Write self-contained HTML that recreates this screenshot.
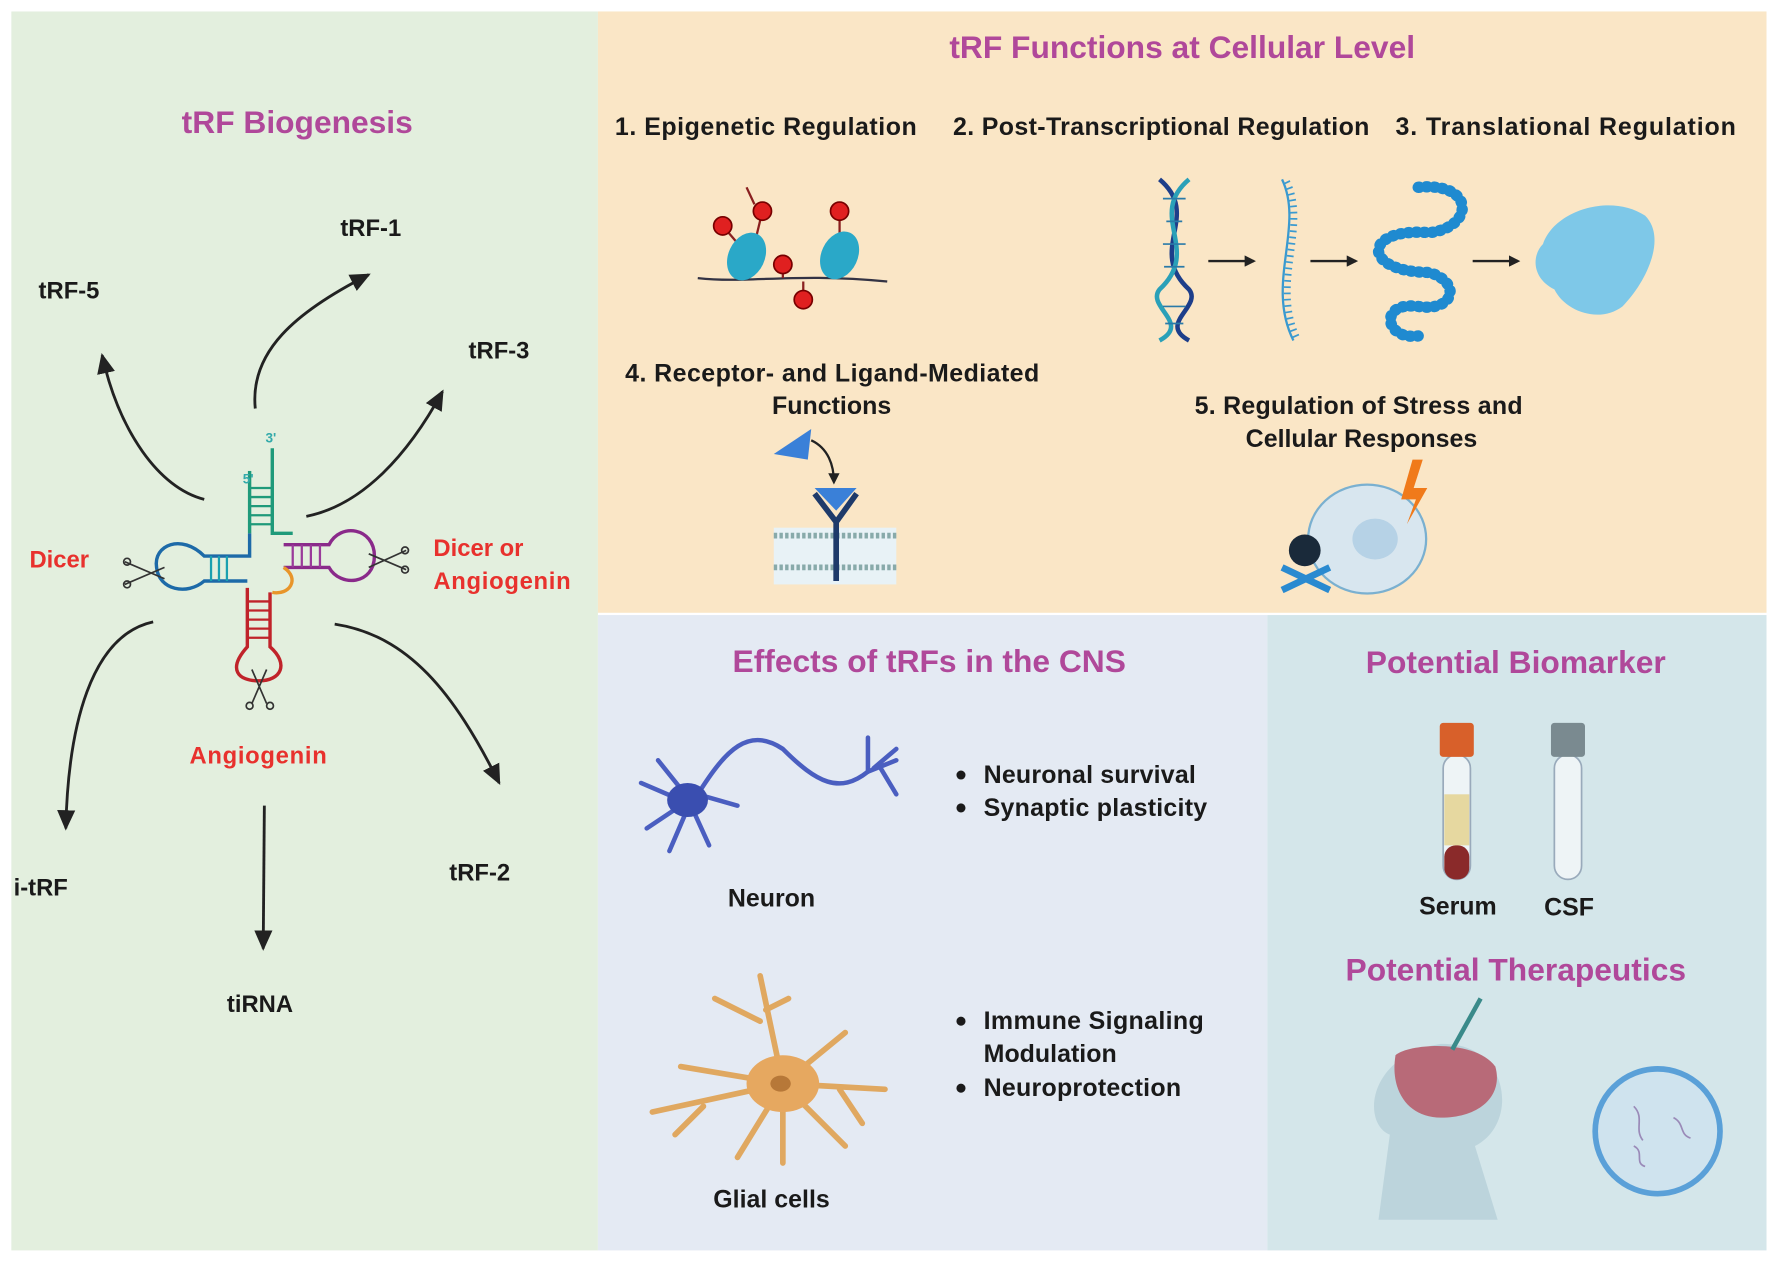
<!DOCTYPE html>
<html><head><meta charset="utf-8"><style>
html,body{margin:0;padding:0;background:#fff;}
svg{display:block;}
text{font-family:"Liberation Sans",sans-serif;font-weight:bold;}
</style></head><body>
<svg width="1779" height="1263" viewBox="0 0 1568 1113" xmlns="http://www.w3.org/2000/svg">
<defs>
<marker id="ah" markerWidth="10" markerHeight="10" refX="8" refY="5" orient="auto" markerUnits="userSpaceOnUse"><path d="M0,0 L10,5 L0,10 z" fill="#222"/></marker>
<marker id="ahb" markerWidth="20" markerHeight="20" refX="16" refY="10" orient="auto" markerUnits="userSpaceOnUse"><path d="M0,2 L18,10 L0,18 z" fill="#222"/></marker>
</defs>
<rect width="1568" height="1113" fill="#fff"/>
<rect x="10" y="10" width="517" height="1092" fill="#e3efde"/>
<rect x="527" y="10" width="1030" height="530" fill="#fae6c6"/>
<rect x="527" y="542" width="590" height="560" fill="#e4eaf3"/>
<rect x="1117" y="542" width="440" height="560" fill="#d4e6ea"/>

<!-- Left panel -->
<text x="262" y="117" font-size="28" fill="#b0489a" text-anchor="middle">tRF Biogenesis</text>
<g font-size="21" fill="#1a1a1a">
<text x="300" y="208">tRF-1</text>
<text x="34" y="263">tRF-5</text>
<text x="413" y="316">tRF-3</text>
<text x="12" y="789">i-tRF</text>
<text x="396" y="776">tRF-2</text>
<text x="200" y="892">tiRNA</text>
</g>
<g font-size="21" fill="#e8312d">
<text x="26" y="500">Dicer</text>
<text x="382" y="490">Dicer or</text>
<text x="382" y="519" textLength="121">Angiogenin</text>
<text x="167" y="673" textLength="121">Angiogenin</text>
</g>
<g fill="none" stroke="#222" stroke-width="2.5">
<path d="M225,360 C220,310 260,275 325,242" marker-end="url(#ahb)"/>
<path d="M180,440 C140,430 105,380 90,313" marker-end="url(#ahb)"/>
<path d="M270,455 C320,445 360,400 390,345" marker-end="url(#ahb)"/>
<path d="M135,548 C80,560 60,640 58,730" marker-end="url(#ahb)"/>
<path d="M295,550 C360,560 400,610 440,690" marker-end="url(#ahb)"/>
<path d="M233,710 L232,836" marker-end="url(#ahb)"/>
</g>
<!-- tRNA -->
<g fill="none" stroke-width="3">
<path d="M240,395 L240,470 L258,470" stroke="#1f9a7a"/>
<path d="M220,415 L220,470" stroke="#1f9a7a"/>
<g stroke="#1f9a7a" stroke-width="2"><line x1="220" y1="430" x2="240" y2="430"/><line x1="220" y1="438" x2="240" y2="438"/><line x1="220" y1="446" x2="240" y2="446"/><line x1="220" y1="454" x2="240" y2="454"/><line x1="220" y1="462" x2="240" y2="462"/></g>
<path d="M220,470 L220,490 L180,490 C160,470 135,480 138,500 C140,520 165,525 180,512 L218,512" stroke="#1d6aa8"/>
<g stroke="#1aa0b0" stroke-width="2"><line x1="186" y1="490" x2="186" y2="512"/><line x1="193" y1="490" x2="193" y2="512"/><line x1="200" y1="490" x2="200" y2="512"/></g>
<path d="M250,480 L290,480 C300,460 330,465 330,490 C330,515 300,518 290,500 L250,500" stroke="#8a2a8a"/>
<g stroke="#9a3a9a" stroke-width="2"><line x1="258" y1="480" x2="258" y2="500"/><line x1="266" y1="480" x2="266" y2="500"/><line x1="274" y1="480" x2="274" y2="500"/><line x1="282" y1="480" x2="282" y2="500"/></g>
<path d="M250,500 C265,510 255,525 240,522" stroke="#e8952a"/>
<path d="M218,518 L218,570 C200,590 210,600 228,600 C248,600 255,585 238,570 L238,522" stroke="#c0232a"/>
<g stroke="#c0232a" stroke-width="2"><line x1="218" y1="530" x2="238" y2="530"/><line x1="218" y1="538" x2="238" y2="538"/><line x1="218" y1="546" x2="238" y2="546"/><line x1="218" y1="554" x2="238" y2="554"/><line x1="218" y1="562" x2="238" y2="562"/></g>
</g>
<text x="234" y="390" font-size="12" fill="#3aa" font-weight="normal">3'</text>
<text x="214" y="426" font-size="12" fill="#3aa" font-weight="normal">5'</text>
<g stroke="#333" stroke-width="1.5" fill="none">
<path d="M110,495 L145,510 M110,515 L145,500"/><circle cx="112" cy="495" r="3"/><circle cx="112" cy="515" r="3"/>
<path d="M358,485 L325,500 M358,502 L325,488"/><circle cx="357" cy="485" r="3"/><circle cx="357" cy="502" r="3"/>
<path d="M222,590 L235,620 M235,590 L222,620"/><circle cx="220" cy="622" r="3"/><circle cx="238" cy="622" r="3"/>
</g>

<!-- Top right -->
<text x="1042" y="51" font-size="28" fill="#b0489a" text-anchor="middle">tRF Functions at Cellular Level</text>
<g font-size="22" fill="#1a1a1a">
<text x="542" y="119" textLength="266">1.  Epigenetic Regulation</text>
<text x="840" y="119" textLength="367">2. Post-Transcriptional Regulation</text>
<text x="1230" y="119" textLength="300">3. Translational Regulation</text>
<text x="551" y="336" textLength="365">4. Receptor- and Ligand-Mediated</text>
<text x="733" y="365" text-anchor="middle">Functions</text>
<text x="1053" y="365" textLength="289">5. Regulation of Stress and</text>
<text x="1200" y="394" text-anchor="middle">Cellular Responses</text>
</g>
<!-- nucleosomes -->
<path d="M615,245 C660,250 700,240 782,248" stroke="#334" stroke-width="2" fill="none"/>
<g stroke="#8a2020" stroke-width="2"><line x1="637" y1="199" x2="655" y2="220"/><line x1="672" y1="186" x2="665" y2="215"/><line x1="740" y1="186" x2="740" y2="210"/><line x1="690" y1="233" x2="690" y2="245"/><line x1="708" y1="248" x2="708" y2="263"/><line x1="658" y1="165" x2="665" y2="180"/></g>
<ellipse cx="658" cy="226" rx="16" ry="22" fill="#2aa8c8" transform="rotate(25 658 226)"/>
<ellipse cx="740" cy="225" rx="16" ry="22" fill="#2aa8c8" transform="rotate(25 740 225)"/>
<g fill="#e02020" stroke="#700" stroke-width="1.5"><circle cx="637" cy="199" r="8"/><circle cx="672" cy="186" r="8"/><circle cx="740" cy="186" r="8"/><circle cx="690" cy="233" r="8"/><circle cx="708" cy="264" r="8"/></g>
<!-- DNA -->
<path d="M1022,158 C1060,190 1010,220 1048,255 C1060,270 1020,285 1048,300" stroke="#1d3e8a" stroke-width="4" fill="none"/>
<path d="M1048,158 C1010,190 1060,220 1022,255 C1010,270 1050,285 1022,300" stroke="#2aa0b8" stroke-width="4" fill="none"/>
<g stroke="#2a7aa8" stroke-width="1.5"><line x1="1025" y1="175" x2="1045" y2="175"/><line x1="1028" y1="195" x2="1042" y2="195"/><line x1="1025" y1="215" x2="1045" y2="215"/><line x1="1026" y1="235" x2="1044" y2="235"/><line x1="1025" y1="270" x2="1045" y2="270"/><line x1="1027" y1="285" x2="1043" y2="285"/></g>
<path d="M1130,158 C1150,200 1115,250 1140,300" stroke="#3a9ad0" stroke-width="2" fill="none"/>
<path d="M1134,160 C1154,200 1119,250 1144,300" stroke="#3a9ad0" stroke-width="6" fill="none" stroke-dasharray="1.5,4"/>
<path d="M1250,165 C1300,160 1300,200 1260,205 C1200,200 1200,240 1260,240 C1290,250 1280,275 1250,270 C1215,265 1220,300 1250,296" stroke="#1f8ad0" stroke-width="10" fill="none" stroke-dasharray="1,6" stroke-linecap="round"/>
<path d="M1360,215 C1370,185 1420,170 1450,190 C1470,210 1450,250 1430,270 C1410,285 1380,275 1370,255 C1350,245 1350,225 1360,215z" fill="#7ec8e8"/>
<g stroke="#222" stroke-width="2" fill="none">
<path d="M1065,230 L1105,230" marker-end="url(#ah)"/>
<path d="M1155,230 L1195,230" marker-end="url(#ah)"/>
<path d="M1298,230 L1338,230" marker-end="url(#ah)"/>
<path d="M715,388 C730,395 735,410 735,425" marker-end="url(#ah)"/>
</g>
<!-- receptor -->
<rect x="682" y="465" width="108" height="50" fill="#e8f2f6"/>
<g stroke="#8aa" stroke-width="5" stroke-dasharray="3,2"><line x1="682" y1="472" x2="790" y2="472"/><line x1="682" y1="500" x2="790" y2="500"/></g>
<path d="M682,400 L715,378 L712,405z" fill="#3a80d8"/>
<path d="M718,430 L755,430 L737,450z" fill="#3a80d8"/>
<path d="M718,435 L737,460 L755,435 M737,460 L737,512" stroke="#1e3a6a" stroke-width="5" fill="none"/>
<!-- stress cell -->
<ellipse cx="1205" cy="475" rx="52" ry="48" fill="#d8e6ef" stroke="#7ab0d0" stroke-width="2"/>
<ellipse cx="1212" cy="475" rx="20" ry="18" fill="#b6d2e6"/>
<path d="M1245,405 L1235,440 L1248,440 L1240,462 L1258,430 L1246,430 L1254,405z" fill="#f07a1a"/>
<circle cx="1150" cy="485" r="14" fill="#1a2a3a"/>
<path d="M1130,500 L1172,520 M1172,500 L1130,520" stroke="#2a8ad0" stroke-width="6"/>

<!-- Bottom middle -->
<text x="819" y="592" font-size="28" fill="#b0489a" text-anchor="middle">Effects of tRFs in the CNS</text>
<g font-size="22" fill="#1a1a1a">
<text x="680" y="799" text-anchor="middle">Neuron</text>
<text x="680" y="1064" text-anchor="middle">Glial cells</text>
<text x="867" y="690" textLength="187">Neuronal survival</text>
<text x="867" y="719" textLength="197">Synaptic plasticity</text>
<text x="867" y="907" textLength="194">Immune Signaling</text>
<text x="867" y="936">Modulation</text>
<text x="867" y="966" textLength="174">Neuroprotection</text>
</g>
<g fill="#1a1a1a"><circle cx="847" cy="683" r="4"/><circle cx="847" cy="712" r="4"/><circle cx="847" cy="900" r="4"/><circle cx="847" cy="959" r="4"/></g>
<g stroke="#4a5ec0" stroke-width="4" fill="none" stroke-linecap="round">
<path d="M615,700 C640,660 660,640 690,660 C720,690 740,700 765,680 L790,670"/>
<path d="M600,705 L565,690 M600,710 L570,730 M605,715 L590,750 M610,712 L625,745 M615,700 L650,710 M600,695 L580,670 M765,680 L765,650 M775,675 L790,700 M770,677 L790,660"/>
</g>
<ellipse cx="606" cy="705" rx="18" ry="15" fill="#3a4eb0"/>
<g stroke="#e0a860" stroke-width="5" fill="none" stroke-linecap="round">
<path d="M690,955 L670,860 M690,955 L575,980 M690,955 L600,940 M690,955 L780,960 M690,955 L745,910 M690,955 L650,1020 M690,955 L690,1025 M690,955 L745,1010 M670,900 L630,880 M675,890 L695,880 M620,975 L595,1000 M740,960 L760,990"/>
</g>
<ellipse cx="690" cy="955" rx="32" ry="25" fill="#e6a860"/>
<ellipse cx="688" cy="955" rx="9" ry="7" fill="#b77838"/>

<!-- Bottom right -->
<text x="1336" y="593" font-size="28" fill="#b0489a" text-anchor="middle">Potential Biomarker</text>
<text x="1336" y="864" font-size="28" fill="#b0489a" text-anchor="middle">Potential Therapeutics</text>
<g font-size="22" fill="#1a1a1a">
<text x="1285" y="806" text-anchor="middle">Serum</text>
<text x="1383" y="807" text-anchor="middle">CSF</text>
</g>
<rect x="1272" y="665" width="24" height="110" rx="12" fill="#eef4f6" stroke="#9ab" stroke-width="1.5"/>
<rect x="1273" y="700" width="22" height="45" fill="#e6d8a0"/>
<rect x="1273" y="745" width="22" height="30" rx="10" fill="#8a2a2a"/>
<rect x="1269" y="637" width="30" height="30" rx="3" fill="#d8602a"/>
<rect x="1370" y="665" width="24" height="110" rx="12" fill="#eef4f6" stroke="#9ab" stroke-width="1.5"/>
<rect x="1367" y="637" width="30" height="30" rx="3" fill="#7a8a90"/>
<path d="M1215,1075 L1225,1000 C1200,990 1205,930 1270,920 C1330,918 1340,990 1300,1010 L1320,1075z" fill="#bcd4dc"/>
<path d="M1230,930 C1240,920 1300,915 1318,940 C1325,965 1305,985 1270,985 C1240,985 1225,960 1230,930z" fill="#b86a78"/>
<line x1="1280" y1="925" x2="1305" y2="880" stroke="#3a8a8a" stroke-width="4"/>
<circle cx="1461" cy="997" r="55" fill="#cfe3ee" stroke="#5aa0d8" stroke-width="5"/>
<g stroke="#9a8ab8" stroke-width="1.5" fill="none"><path d="M1440,975 C1450,985 1440,995 1448,1005"/><path d="M1475,985 C1485,990 1480,1000 1490,1003"/><path d="M1440,1010 C1450,1015 1440,1025 1450,1028"/></g>
</svg>
</body></html>
